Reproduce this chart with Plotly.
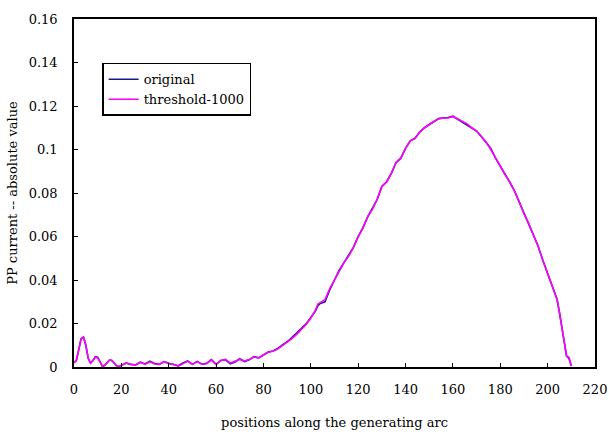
import plotly.graph_objects as go

# positions along the generating arc
positions = [0, 1, 2, 3, 4, 5, 6, 7, 8, 9, 10, 11, 12, 13, 14, 15, 16, 17, 18, 19, 20,
             22, 24, 26, 28, 30, 32, 34, 36, 38, 40, 42, 44, 46, 48, 50, 52, 54, 56, 58,
             60, 62, 64, 66, 68, 70, 72, 74, 76, 78, 80, 82, 84, 86, 88, 90, 92, 94, 96,
             98, 100, 102, 103, 104, 106, 108, 110, 112, 114, 116, 118, 120, 122, 124,
             126, 128, 130, 132, 134, 136, 138, 140, 142, 144, 146, 148, 150, 152, 154,
             156, 158, 160, 162, 164, 166, 168, 170, 172, 174, 176, 178, 180, 182, 184,
             186, 188, 190, 192, 194, 196, 198, 200, 202, 203, 204, 205, 206, 207, 208,
             209, 210]

original = [0.002, 0.003, 0.008, 0.013, 0.0138, 0.010, 0.004, 0.0018, 0.003, 0.0047, 0.0045,
            0.002, 0.0003, 0.0008, 0.0022, 0.0032, 0.003, 0.0018, 0.0005, 0.0002, 0.0008,
            0.0018, 0.0012, 0.0009, 0.0022, 0.0014, 0.0027, 0.0016, 0.0012, 0.0025, 0.0017,
            0.0012, 0.0006, 0.0019, 0.0028, 0.0012, 0.0026, 0.0013, 0.0017, 0.0034, 0.0012,
            0.003, 0.0033, 0.0015, 0.0023, 0.0038, 0.0025, 0.0033, 0.0048, 0.0042, 0.0056,
            0.0069, 0.0074, 0.0085, 0.0102, 0.0116, 0.0135, 0.0155, 0.0176, 0.0198, 0.0228,
            0.0258, 0.0282, 0.0292, 0.030, 0.0355, 0.040, 0.0445, 0.048, 0.0512, 0.055,
            0.060, 0.064, 0.069, 0.073, 0.077, 0.083, 0.0852, 0.089, 0.094, 0.096, 0.1005,
            0.104, 0.1052, 0.108, 0.110, 0.1115, 0.113, 0.1142, 0.1145, 0.1147, 0.1153,
            0.114, 0.1128, 0.1115, 0.110, 0.1085, 0.106, 0.1035, 0.1005, 0.096, 0.0925,
            0.0885, 0.085, 0.081, 0.076, 0.0705, 0.066, 0.061, 0.0555, 0.049, 0.043, 0.038,
            0.0348, 0.031, 0.025, 0.018, 0.011, 0.005, 0.004, 0.0005]

threshold_1000 = [0.002, 0.003, 0.008, 0.013, 0.0138, 0.010, 0.004, 0.0018, 0.003, 0.0045, 0.0042,
                  0.002, 0.0003, 0.0008, 0.0022, 0.0032, 0.003, 0.0018, 0.0005, 0.0002, 0.0008,
                  0.0018, 0.0012, 0.0009, 0.0022, 0.0012, 0.0024, 0.0014, 0.0012, 0.0025, 0.0015,
                  0.0012, 0.0004, 0.0016, 0.0026, 0.0012, 0.0025, 0.0013, 0.0015, 0.0032, 0.0012,
                  0.003, 0.0035, 0.0018, 0.0025, 0.0035, 0.0028, 0.0035, 0.0046, 0.0042, 0.0055,
                  0.0068, 0.0072, 0.0082, 0.0098, 0.0112, 0.013, 0.015, 0.0172, 0.0195, 0.0225,
                  0.0262, 0.029, 0.0298, 0.031, 0.036, 0.040, 0.044, 0.048, 0.051, 0.055,
                  0.060, 0.064, 0.069, 0.0725, 0.077, 0.083, 0.085, 0.089, 0.094, 0.096, 0.1005,
                  0.104, 0.105, 0.108, 0.110, 0.1115, 0.113, 0.1142, 0.1145, 0.1145, 0.1152,
                  0.114, 0.1128, 0.1118, 0.110, 0.1085, 0.106, 0.1035, 0.100, 0.096, 0.0925,
                  0.0885, 0.085, 0.081, 0.076, 0.0705, 0.066, 0.061, 0.0555, 0.049, 0.043, 0.038,
                  0.0345, 0.031, 0.025, 0.018, 0.011, 0.005, 0.0045, 0.0005]

x_tick_vals = [0, 20, 40, 60, 80, 100, 120, 140, 160, 180, 200, 220]
y_tick_vals = [0, 0.02, 0.04, 0.06, 0.08, 0.1, 0.12, 0.14, 0.16]
y_tick_text = ["0", "0.02", "0.04", "0.06", "0.08", "0.1", "0.12", "0.14", "0.16"]

FONT = "DejaVu Serif, serif"

fig = go.Figure()
fig.add_trace(go.Scatter(x=positions, y=original, mode="lines", name="original",
                         line=dict(color="#1a1a8c", width=1.6)))
fig.add_trace(go.Scatter(x=positions, y=threshold_1000, mode="lines", name="threshold-1000",
                         line=dict(color="#ff00ff", width=1.6)))

fig.update_layout(
    width=609, height=436,
    margin=dict(l=74, r=12, t=18, b=69),
    paper_bgcolor="white", plot_bgcolor="white",
    font=dict(family=FONT, size=13, color="black"),
    showlegend=True,
    legend=dict(x=0.054, y=0.874, xanchor="left", yanchor="top",
                bordercolor="black", borderwidth=1.5, bgcolor="white",
                font=dict(family=FONT, size=13), tracegroupgap=2),
    xaxis=dict(range=[0, 220], tickvals=x_tick_vals, ticks="inside", ticklen=4,
               tickcolor="black", showline=True, linecolor="black", linewidth=1.5,
               mirror=True, showgrid=False, zeroline=False, automargin=False,
               ticklabelstandoff=10,
               tickfont=dict(family=FONT, size=13),
               title=dict(text="positions along the generating arc", standoff=22,
                          font=dict(family=FONT, size=13))),
    yaxis=dict(range=[0, 0.16], tickvals=y_tick_vals, ticktext=y_tick_text, ticks="inside",
               ticklen=4, tickcolor="black", showline=True, linecolor="black", linewidth=1.5,
               mirror=True, showgrid=False, zeroline=False,
               ticklabelstandoff=12,
               tickfont=dict(family=FONT, size=13),
               title=dict(text="PP current -- absolute value", standoff=8,
                          font=dict(family=FONT, size=13))),
)

fig.write_html("out.html")
